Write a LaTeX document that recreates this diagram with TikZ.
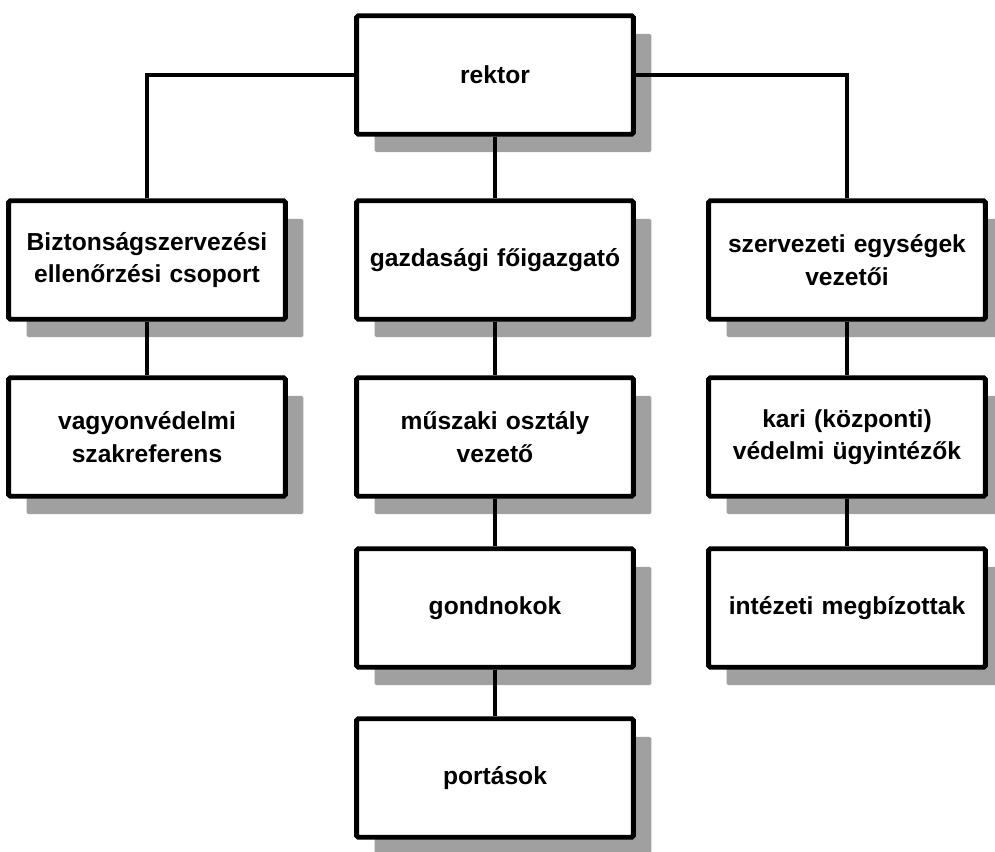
\documentclass[tikz,border=0pt]{standalone}
\usepackage{fontspec}
\setmainfont{Liberation Sans}
\usetikzlibrary{shadows}

\definecolor{Shade}{HTML}{A0A0A0}

\begin{document}
\begin{tikzpicture}[x={(0.02cm,0cm)}, y={(0cm,-0.02cm)},
  unit/.style={draw, line width=2.8pt, rounded corners=1pt, fill=white,
    minimum width=5.44cm, minimum height=2.37cm, text width=5.3cm, align=center,
    font=\bfseries\fontsize{14}{18.5}\selectfont,
    drop shadow={fill=Shade, opacity=1, shadow xshift=0.36cm, shadow yshift=-0.36cm}},
  link/.style={line width=2.1pt}]

 \useasboundingbox (0,0) rectangle (995,852);

 %%%%%%%%%% Top %%%%%%%%%%
 \node[unit] (rektor) at (495,75) {rektor};

 %%%%%%%%%% Left column %%%%%%%%%%
 \node[unit] (bizt) at (147,260) {Biztonságszervezési\\ellenőrzési csoport};
 \node[unit] (vagyon) at (147,437) {vagyonvédelmi\\szakreferens};

 %%%%%%%%%% Middle column %%%%%%%%%%
 \node[unit] (gazd) at (495,260) {gazdasági főigazgató};
 \node[unit] (muszaki) at (495,437) {műszaki osztály\\vezető};
 \node[unit] (gondnok) at (495,608) {gondnokok};
 \node[unit] (portas) at (495,778) {portások};

 %%%%%%%%%% Right column %%%%%%%%%%
 \node[unit] (szerv) at (847,260) {szervezeti egységek\\vezetői};
 \node[unit] (kari) at (847,437) {kari (központi)\\védelmi ügyintézők};
 \node[unit] (intez) at (847,608) {intézeti megbízottak};

 %%%%%%%%%% Links %%%%%%%%%%
 \draw [link] (rektor.west) -| (bizt.north);
 \draw [link] (rektor.east) -| (szerv.north);
 \draw [link] (rektor) -- (gazd);
 \draw [link] (bizt) -- (vagyon);
 \draw [link] (gazd) -- (muszaki);
 \draw [link] (muszaki) -- (gondnok);
 \draw [link] (gondnok) -- (portas);
 \draw [link] (szerv) -- (kari);
 \draw [link] (kari) -- (intez);

\end{tikzpicture}
\end{document}
